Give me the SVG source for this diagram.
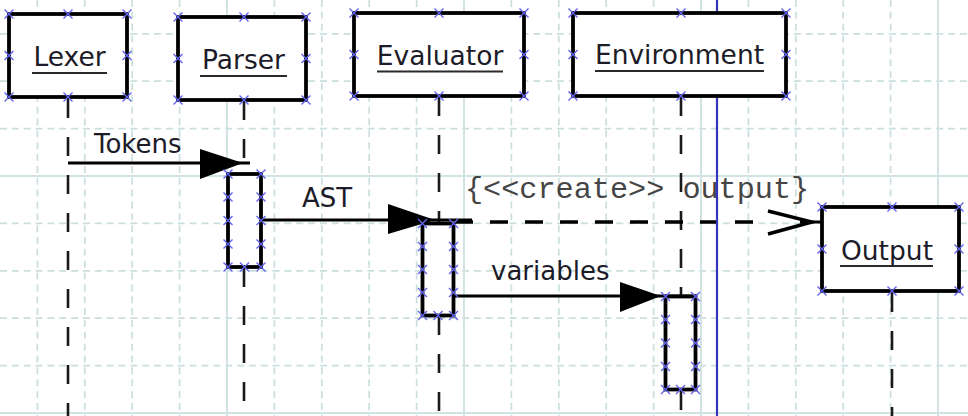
<svg xmlns="http://www.w3.org/2000/svg" xmlns:xlink="http://www.w3.org/1999/xlink" width="968" height="416" viewBox="0 0 968 416">
<style>
  .gd{stroke:#cbdede;stroke-width:1.7;stroke-dasharray:7 4.85;fill:none}
  .gs{stroke:#d2e3e3;stroke-width:2;fill:none}
  .head{fill:#fff;stroke:#000;stroke-width:3.8}
  .act{fill:#fff;stroke:#000;stroke-width:3.8}
  .life{stroke:#1a1a1a;stroke-width:2.6;stroke-dasharray:19 19;fill:none}
  .lbl{font-family:"DejaVu Sans",Verdana,sans-serif;font-size:26.5px;fill:#1c1c28}
  .ul{stroke:#2a2a2a;stroke-width:2}
  .msg{stroke:#000;stroke-width:3;fill:none}
  .mlbl{font-family:"DejaVu Sans",Verdana,sans-serif;font-size:26px;fill:#1c1c28}
  .dash{stroke:#000;stroke-width:3.6;stroke-dasharray:18 17;fill:none}
  .open{stroke:#000;stroke-width:3.4;fill:none;stroke-linejoin:miter}
  .mono{font-family:"Liberation Mono","Courier New",monospace;font-size:30.2px;fill:#454545}
  .mk{stroke:#6262ea;stroke-width:1.4;fill:none}
  .sel{stroke:#3535bb;stroke-width:2.2}
</style>
<defs>
  <path id="x" class="mk" d="M-4.5,-4.5L4.5,4.5M-4.5,4.5L4.5,-4.5"/>
</defs>
<rect width="968" height="416" fill="#fff"/>
<g id="grid">
  <path class="gd" d="M37.4,0V416M84.8,0V416M132.2,0V416M179.6,0V416M274.4,0V416M321.8,0V416M369.2,0V416M416.6,0V416M511.4,0V416M558.8,0V416M606.2,0V416M653.6,0V416M748.4,0V416M795.8,0V416M843.2,0V416M890.6,0V416"/>
  <path class="gd" d="M0,33.8H968M0,81.2H968M0,128.6H968M0,223.4H968M0,270.8H968M0,318.2H968M0,365.6H968"/>
  <path class="gs" d="M227,0V416M464,0V416M701,0V416M938,0V416M0,176H968M0,413H968"/>
</g>
<g id="lifelines">
  <line class="life" x1="68" y1="99" x2="68" y2="416"/>
  <line class="life" x1="244" y1="101" x2="244" y2="172"/>
  <line class="life" x1="244" y1="268" x2="244" y2="416"/>
  <line class="life" x1="439" y1="97" x2="439" y2="222"/>
  <line class="life" x1="439" y1="316" x2="439" y2="416"/>
  <line class="life" x1="681" y1="97" x2="681" y2="295"/>
  <line class="life" x1="681" y1="391" x2="681" y2="416"/>
  <line class="life" x1="892" y1="293" x2="892" y2="416"/>
</g>
<g id="connectors">
  <g id="msg-tokens">
    <line class="msg" x1="68" y1="163" x2="250" y2="163"/>
    <polygon points="200,149 243,163 200,179" fill="#000"/>
    <text class="mlbl" x="94" y="153">Tokens</text>
  </g>
  <g id="msg-ast">
    <line class="msg" x1="262" y1="220" x2="472" y2="220"/>
    <polygon points="388,204 435,220 388,234" fill="#000"/>
    <text class="mlbl" x="302" y="207">AST</text>
  </g>
  <g id="msg-variables">
    <line class="msg" x1="455" y1="296" x2="697" y2="296"/>
    <polygon points="620,282 661,296 620,312" fill="#000"/>
    <text class="mlbl" x="491" y="280">variables</text>
  </g>
  <g id="msg-create">
    <line class="dash" x1="455" y1="222" x2="770" y2="222"/>
    <line class="msg" x1="800" y1="222" x2="822" y2="222"/>
    <polyline class="open" points="768,211 812,222 768,234"/>
    <text class="mono" x="465" y="198">{&lt;&lt;create&gt;&gt; output}</text>
  </g>
</g>
<g id="selection-line">
  <line class="sel" x1="717" y1="0" x2="717" y2="12"/>
  <line class="sel" x1="717" y1="97" x2="717" y2="416"/>
</g>
<g id="lexer">
  <rect class="head" x="9" y="14" width="118" height="83"/>
  <text class="lbl" x="69.5" y="66" text-anchor="middle">Lexer</text>
  <line class="ul" x1="32" y1="73" x2="107" y2="73"/>
  <use xlink:href="#x" x="9" y="14"/><use xlink:href="#x" x="68" y="14"/><use xlink:href="#x" x="127" y="14"/>
  <use xlink:href="#x" x="9" y="55.5"/><use xlink:href="#x" x="127" y="55.5"/>
  <use xlink:href="#x" x="9" y="97"/><use xlink:href="#x" x="68" y="97"/><use xlink:href="#x" x="127" y="97"/>
</g>
<g id="parser">
  <rect class="head" x="178" y="17" width="128" height="83"/>
  <text class="lbl" x="243.5" y="69" text-anchor="middle">Parser</text>
  <line class="ul" x1="200" y1="76" x2="287" y2="76"/>
  <use xlink:href="#x" x="178" y="17"/><use xlink:href="#x" x="244" y="17"/><use xlink:href="#x" x="306" y="17"/>
  <use xlink:href="#x" x="178" y="58.5"/><use xlink:href="#x" x="306" y="58.5"/>
  <use xlink:href="#x" x="178" y="100"/><use xlink:href="#x" x="244" y="100"/><use xlink:href="#x" x="306" y="100"/>
  <g id="parser-activation">
    <rect class="act" x="228" y="174" width="33" height="93"/>
    <use xlink:href="#x" x="228" y="174"/><use xlink:href="#x" x="261" y="174"/>
    <use xlink:href="#x" x="228" y="197"/><use xlink:href="#x" x="261" y="197"/>
    <use xlink:href="#x" x="228" y="220.5"/><use xlink:href="#x" x="261" y="220.5"/>
    <use xlink:href="#x" x="228" y="244"/><use xlink:href="#x" x="261" y="244"/>
    <use xlink:href="#x" x="228" y="267"/><use xlink:href="#x" x="244.5" y="267"/><use xlink:href="#x" x="261" y="267"/>
  </g>
</g>
<g id="evaluator">
  <rect class="head" x="354" y="13" width="170" height="83"/>
  <text class="lbl" x="440" y="65" text-anchor="middle">Evaluator</text>
  <line class="ul" x1="377" y1="71.5" x2="503" y2="71.5"/>
  <use xlink:href="#x" x="354" y="13"/><use xlink:href="#x" x="439" y="13"/><use xlink:href="#x" x="524" y="13"/>
  <use xlink:href="#x" x="354" y="54.5"/><use xlink:href="#x" x="524" y="54.5"/>
  <use xlink:href="#x" x="354" y="96"/><use xlink:href="#x" x="439" y="96"/><use xlink:href="#x" x="524" y="96"/>
  <g id="evaluator-activation">
    <rect class="act" x="422.5" y="223.5" width="31" height="92"/>
    <use xlink:href="#x" x="422.5" y="223.5"/><use xlink:href="#x" x="453.5" y="223.5"/>
    <use xlink:href="#x" x="422.5" y="246.5"/><use xlink:href="#x" x="453.5" y="246.5"/>
    <use xlink:href="#x" x="422.5" y="269.5"/><use xlink:href="#x" x="453.5" y="269.5"/>
    <use xlink:href="#x" x="422.5" y="292.5"/><use xlink:href="#x" x="453.5" y="292.5"/>
    <use xlink:href="#x" x="422.5" y="315.5"/><use xlink:href="#x" x="438" y="315.5"/><use xlink:href="#x" x="453.5" y="315.5"/>
  </g>
</g>
<g id="environment">
  <rect class="head" x="573" y="13" width="213" height="83"/>
  <text class="lbl" x="679.5" y="64" text-anchor="middle">Environment</text>
  <line class="ul" x1="595" y1="71" x2="764" y2="71"/>
  <use xlink:href="#x" x="573" y="13"/><use xlink:href="#x" x="681" y="13"/><use xlink:href="#x" x="786" y="13"/>
  <use xlink:href="#x" x="573" y="54.5"/><use xlink:href="#x" x="786" y="54.5"/>
  <use xlink:href="#x" x="573" y="96"/><use xlink:href="#x" x="681" y="96"/><use xlink:href="#x" x="786" y="96"/>
  <g id="environment-activation">
    <rect class="act" x="665.5" y="296.5" width="30" height="93"/>
    <use xlink:href="#x" x="665.5" y="296.5"/><use xlink:href="#x" x="695.5" y="296.5"/>
    <use xlink:href="#x" x="665.5" y="319.5"/><use xlink:href="#x" x="695.5" y="319.5"/>
    <use xlink:href="#x" x="665.5" y="343"/><use xlink:href="#x" x="695.5" y="343"/>
    <use xlink:href="#x" x="665.5" y="366.5"/><use xlink:href="#x" x="695.5" y="366.5"/>
    <use xlink:href="#x" x="665.5" y="389.5"/><use xlink:href="#x" x="680.5" y="389.5"/><use xlink:href="#x" x="695.5" y="389.5"/>
  </g>
</g>
<g id="output">
  <rect class="head" x="822" y="207" width="137" height="84"/>
  <text class="lbl" x="887" y="260" text-anchor="middle">Output</text>
  <line class="ul" x1="840" y1="266" x2="933" y2="266"/>
  <use xlink:href="#x" x="822" y="207"/><use xlink:href="#x" x="892" y="207"/><use xlink:href="#x" x="959" y="207"/>
  <use xlink:href="#x" x="822" y="249"/><use xlink:href="#x" x="959" y="249"/>
  <use xlink:href="#x" x="822" y="291"/><use xlink:href="#x" x="892" y="291"/><use xlink:href="#x" x="959" y="291"/>
</g>
</svg>
